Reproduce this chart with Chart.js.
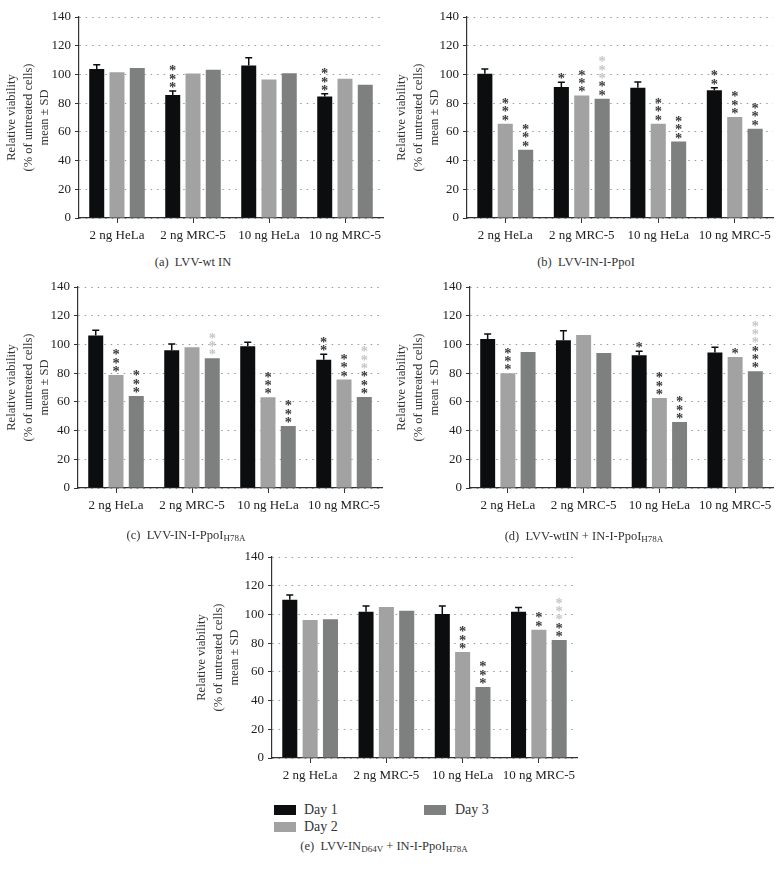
<!DOCTYPE html>
<html>
<head>
<meta charset="utf-8">
<script src="https://cdn.jsdelivr.net/npm/chart.js@4.4.0/dist/chart.umd.min.js"></script>
<style>
  body { margin: 0; background: #fff; }
  #page { position: relative; width: 781px; height: 870px; background: #fff; font-family: "Liberation Serif", "DejaVu Serif", serif; color: #333; }
  canvas { position: absolute; }
  .cap { position: absolute; font-size: 12.5px; white-space: nowrap; transform: translate(-50%, -50%); }
  .cap sub { font-size: 9px; vertical-align: -2px; }
  .sw { position: absolute; width: 22px; height: 10px; }
  .lt { position: absolute; font-size: 14px; transform: translateY(-50%); }
</style>
</head>
<body>
<div id="page">
  <canvas id="ca" width="390" height="245" style="left:0;top:0"></canvas>
  <canvas id="cb" width="391" height="245" style="left:390px;top:0"></canvas>
  <canvas id="cc" width="390" height="245" style="left:0;top:270px"></canvas>
  <canvas id="cd" width="391" height="245" style="left:390px;top:270px"></canvas>
  <canvas id="ce" width="395" height="245" style="left:190px;top:540px"></canvas>

  <div class="cap" style="left:193px;top:262px">(a)&nbsp; LVV-wt IN</div>
  <div class="cap" style="left:586px;top:262px">(b)&nbsp; LVV-IN-I-PpoI</div>
  <div class="cap" style="left:186px;top:535px">(c)&nbsp; LVV-IN-I-PpoI<sub>H78A</sub></div>
  <div class="cap" style="left:584px;top:536px">(d)&nbsp; LVV-wtIN + IN-I-PpoI<sub>H78A</sub></div>
  <div class="cap" style="left:384px;top:846px">(e)&nbsp; LVV-IN<sub>D64V</sub> + IN-I-PpoI<sub>H78A</sub></div>

  <div class="sw" style="left:274px;top:805px;background:#0b0d0e"></div>
  <div class="lt" style="left:304px;top:810px">Day 1</div>
  <div class="sw" style="left:274px;top:822px;background:#a2a2a2"></div>
  <div class="lt" style="left:304px;top:827px">Day 2</div>
  <div class="sw" style="left:424px;top:805px;background:#7e807f"></div>
  <div class="lt" style="left:455px;top:810px">Day 3</div>
</div>
<script>
const categories = ['2 ng HeLa', '2 ng MRC-5', '10 ng HeLa', '10 ng MRC-5'];
const seriesNames = ['Day 1', 'Day 2', 'Day 3'];
const yTicks = [0, 20, 40, 60, 80, 100, 120, 140];
const yTitle = ['Relative viability', '(% of untreated cells)', 'mean \u00b1 SD'];

// (a) LVV-wt IN
const aDay1 = [103.7, 85.6, 106.3, 84.7];
const aDay2 = [101.6, 100.7, 96.5, 97.0];
const aDay3 = [104.4, 103.2, 100.9, 92.8];
const aSD = [3.0, 2.8, 5.3, 1.8];
const aStars = [[0, 3, 0, 3], [0, 0, 0, 0], [0, 0, 0, 0]];
const aStarsLight = [[0, 0, 0, 0], [0, 0, 0, 0], [0, 0, 0, 0]];

// (b) LVV-IN-I-PpoI
const bDay1 = [100.5, 91.2, 90.8, 88.9];
const bDay2 = [65.7, 85.4, 65.7, 70.3];
const bDay3 = [47.6, 83.1, 53.2, 62.2];
const bSD = [3.3, 3.3, 3.9, 1.9];
const bStars = [[0, 1, 0, 2], [3, 3, 3, 3], [3, 2, 3, 3]];
const bStarsLight = [[0, 0, 0, 0], [0, 0, 0, 0], [0, 3, 0, 0]];

// (c) LVV-IN-I-PpoI H78A
const cDay1 = [106.3, 95.9, 98.7, 89.4];
const cDay2 = [78.7, 98.0, 63.2, 75.5];
const cDay3 = [64.1, 90.3, 43.2, 63.4];
const cSD = [3.5, 4.4, 2.8, 3.7];
const cStars = [[0, 0, 0, 2], [3, 0, 3, 3], [3, 0, 3, 3]];
const cStarsLight = [[0, 0, 0, 0], [0, 0, 0, 0], [0, 3, 0, 3]];

// (d) LVV-wtIN + IN-I-PpoI H78A
const dDay1 = [103.8, 102.9, 92.4, 94.3];
const dDay2 = [79.9, 106.6, 62.7, 91.2];
const dDay3 = [94.7, 94.0, 46.0, 81.3];
const dSD = [3.5, 6.7, 2.8, 3.7];
const dStars = [[0, 0, 1, 0], [3, 0, 3, 1], [0, 0, 3, 3]];
const dStarsLight = [[0, 0, 0, 0], [0, 0, 0, 0], [0, 0, 0, 3]];

// (e) LVV-IN D64V + IN-I-PpoI H78A
const eDay1 = [110.3, 101.9, 100.3, 101.9];
const eDay2 = [96.1, 105.2, 73.8, 89.4];
const eDay3 = [96.6, 102.6, 49.4, 82.2];
const eSD = [3.2, 3.9, 5.5, 3.0];
const eStars = [[0, 0, 0, 0], [0, 0, 3, 2], [0, 0, 3, 2]];
const eStarsLight = [[0, 0, 0, 0], [0, 0, 0, 0], [0, 0, 0, 3]];

const colors = ['#0b0d0e', '#a2a2a2', '#7e807f'];
const serif = '"Liberation Serif", "DejaVu Serif", serif';

// error bar (day 1 only) + significance stars above bars
function marksPlugin(sd, dark, light) {
  return {
    id: 'marks',
    afterDatasetsDraw(chart) {
      const ctx = chart.ctx;
      const y = chart.scales.y;
      ctx.save();
      ctx.font = 'bold 14.5px ' + serif;
      const m = ctx.measureText('*');
      const shift = (m.actualBoundingBoxAscent - m.actualBoundingBoxDescent) / 2;
      ctx.textAlign = 'center';
      ctx.textBaseline = 'alphabetic';
      for (let s = 0; s < 3; s++) {
        const meta = chart.getDatasetMeta(s);
        meta.data.forEach((bar, i) => {
          let base = bar.y;
          if (s === 0) {
            const yErr = y.getPixelForValue(chart.data.datasets[0].data[i] + sd[i]);
            ctx.strokeStyle = '#0b0d0e';
            ctx.lineWidth = 1.5;
            ctx.beginPath();
            ctx.moveTo(bar.x, bar.y);
            ctx.lineTo(bar.x, yErr);
            ctx.moveTo(bar.x - 3.5, yErr);
            ctx.lineTo(bar.x + 3.5, yErr);
            ctx.stroke();
            base = yErr;
          }
          let k = 0;
          for (let n = 0; n < dark[s][i]; n++, k++) {
            ctx.fillStyle = '#3a3a3a';
            ctx.fillText('*', bar.x, base - 6 - k * 8.3 + shift);
          }
          for (let n = 0; n < light[s][i]; n++, k++) {
            ctx.fillStyle = '#c6c6c6';
            ctx.fillText('*', bar.x, base - 6 - k * 8.3 + shift);
          }
        });
      }
      ctx.restore();
    }
  };
}

function makePanel(id, d1, d2, d3, sd, dark, light, axisW, padRight) {
  const series = [d1, d2, d3];
  new Chart(document.getElementById(id), {
    type: 'bar',
    data: {
      labels: categories,
      datasets: seriesNames.map((name, s) => ({
        label: name,
        data: series[s],
        backgroundColor: colors[s],
        borderWidth: 0,
        categoryPercentage: 0.8,
        barPercentage: 0.74,
      })),
    },
    options: {
      responsive: false,
      animation: false,
      events: [],
      layout: { padding: { top: 17, right: padRight, left: 0, bottom: 0 } },
      plugins: { legend: { display: false }, tooltip: { enabled: false } },
      scales: {
        x: {
          afterFit: (scale) => { scale.height = 27; },
          grid: { offset: false, drawOnChartArea: false, drawTicks: true, tickLength: 5, tickColor: '#333', lineWidth: 1 },
          border: { color: '#333', width: 1.2 },
          ticks: { color: '#222', padding: 5, maxRotation: 0, font: { family: serif, size: 13 } },
        },
        y: {
          min: 0,
          max: 140,
          afterFit: (scale) => { scale.width = axisW; },
          afterBuildTicks: (scale) => { scale.ticks = yTicks.map((v) => ({ value: v })); },
          grid: { color: '#9a9a9a', lineWidth: 1, drawTicks: true, tickLength: 4, tickColor: '#333' },
          border: { color: '#333', width: 1.2, dash: [1.5, 5] },
          ticks: { color: '#222', padding: 4, font: { family: serif, size: 13 } },
          title: {
            display: true,
            text: yTitle,
            color: '#333',
            padding: { top: 4, bottom: 4 },
            font: { family: serif, size: 12.5, lineHeight: 1.3 },
          },
        },
      },
    },
    plugins: [marksPlugin(sd, dark, light)],
  });
}

makePanel('ca', aDay1, aDay2, aDay3, aSD, aStars, aStarsLight, 79, 7);
makePanel('cb', bDay1, bDay2, bDay3, bSD, bStars, bStarsLight, 77, 8);
makePanel('cc', cDay1, cDay2, cDay3, cSD, cStars, cStarsLight, 78, 8);
makePanel('cd', dDay1, dDay2, dDay3, dSD, dStars, dStarsLight, 80, 8);
makePanel('ce', eDay1, eDay2, eDay3, eSD, eStars, eStarsLight, 82, 8);
</script>
</body>
</html>
